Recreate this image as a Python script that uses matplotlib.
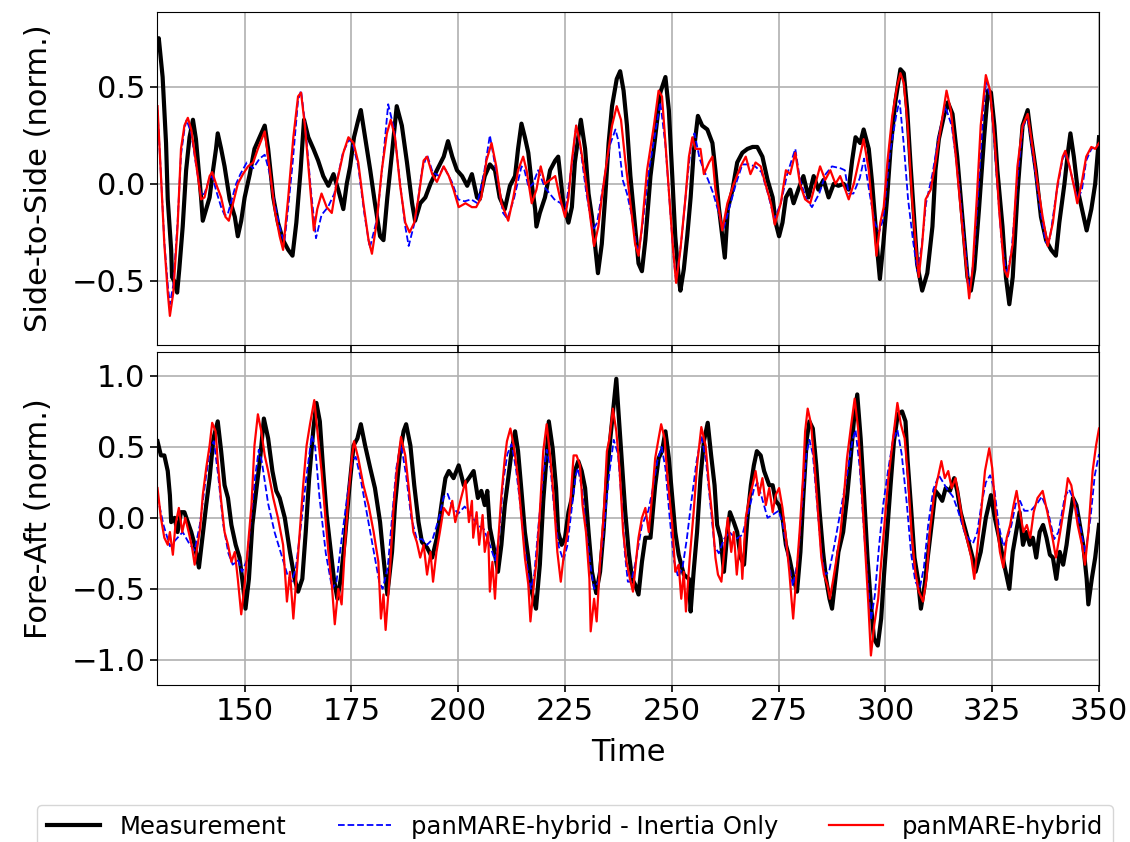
import matplotlib
matplotlib.use("Agg")
import matplotlib.pyplot as plt
import numpy as np

# (time, value) pairs
ss_meas = [(129.5, 0.70), (129.9, 0.75), (130.8, 0.55), (131.6, 0.21), (132.0, -0.08), (132.8, -0.34), (133.0, -0.48),
           (133.5, -0.50), (134.2, -0.56), (134.7, -0.44), (135.5, -0.22), (136.3, 0.07), (137.1, 0.24), (137.9, 0.33),
           (138.6, 0.23), (139.8, -0.07), (140.2, -0.19), (141.0, -0.13), (141.8, -0.07), (142.6, 0.07), (143.3, 0.18),
           (143.7, 0.26), (144.5, 0.18), (145.3, 0.09), (146.5, -0.08), (147.7, -0.17), (148.4, -0.27), (149.2, -0.19),
           (150.0, -0.07), (151.2, 0.05), (152.3, 0.18), (153.5, 0.24), (154.7, 0.30), (155.5, 0.18), (156.7, -0.07),
           (157.8, -0.20), (159.0, -0.29), (160.2, -0.34), (161.2, -0.37), (162.1, -0.20), (163.1, 0.07), (163.9, 0.33),
           (164.9, 0.24), (166.1, 0.18), (167.2, 0.12), (168.4, 0.04), (169.6, -0.01), (170.8, 0.05), (171.9, -0.03),
           (173.1, -0.13), (173.9, 0.00), (174.7, 0.09), (175.6, 0.24), (176.6, 0.33), (177.2, 0.38), (178.2, 0.24),
           (179.4, 0.07), (180.5, -0.10), (181.7, -0.27), (182.5, -0.29), (183.4, -0.07), (184.5, 0.16), (185.6, 0.40),
           (186.8, 0.30), (188.0, 0.11), (189.2, -0.10), (189.9, -0.19), (191.1, -0.10), (192.3, -0.07), (193.5, 0.00),
           (195.0, 0.07), (196.6, 0.14), (197.6, 0.22), (198.6, 0.14), (199.7, 0.07), (200.9, 0.04), (202.1, -0.01),
           (203.2, 0.05), (204.4, -0.07), (205.0, -0.08), (206.2, 0.04), (207.4, 0.10), (208.6, 0.07), (209.7, -0.07),
           (210.9, -0.13), (212.1, -0.01), (213.3, 0.04), (214.0, 0.18), (214.8, 0.31), (215.6, 0.24), (216.4, 0.16),
           (217.2, 0.00), (218.0, -0.13), (218.3, -0.22), (219.1, -0.15), (220.3, -0.07), (221.5, 0.07), (222.7, 0.12),
           (223.4, 0.14), (224.6, -0.10), (225.8, -0.20), (226.6, -0.12), (227.3, 0.11), (228.1, 0.24), (228.7, 0.33),
           (229.7, 0.18), (230.5, -0.05), (231.3, -0.17), (232.0, -0.31), (232.7, -0.46), (233.6, -0.31), (234.4, -0.07),
           (235.2, 0.21), (236.0, 0.40), (237.1, 0.54), (237.9, 0.58), (238.7, 0.48), (239.5, 0.30), (240.3, 0.04),
           (241.4, -0.22), (242.2, -0.41), (243.0, -0.45), (243.8, -0.29), (245.0, 0.04), (246.1, 0.24), (247.3, 0.47),
           (248.5, 0.55), (249.3, 0.38), (250.1, 0.04), (250.8, -0.27), (251.6, -0.48), (252.0, -0.55), (252.8, -0.44),
           (253.6, -0.27), (254.4, -0.07), (255.1, 0.16), (256.1, 0.35), (257.1, 0.30), (258.3, 0.28), (259.5, 0.21),
           (260.2, 0.07), (261.0, -0.12), (261.8, -0.27), (262.4, -0.38), (263.1, -0.13), (264.2, -0.03), (265.3, 0.11),
           (266.5, 0.16), (267.7, 0.18), (268.9, 0.19), (270.0, 0.19), (271.2, 0.14), (272.4, 0.02), (273.6, -0.07),
           (274.3, -0.20), (275.1, -0.27), (275.9, -0.20), (276.7, -0.07), (277.7, -0.03), (278.5, -0.10), (279.6, -0.03),
           (280.8, 0.04), (282.0, -0.07), (283.2, 0.04), (284.3, -0.03), (285.5, 0.02), (286.7, -0.07), (287.9, 0.00),
           (289.0, -0.01), (290.2, 0.00), (291.4, -0.03), (292.2, 0.12), (293.0, 0.24), (294.1, 0.21), (294.9, 0.28),
           (296.1, 0.18), (296.9, 0.00), (297.7, -0.22), (298.2, -0.37), (298.7, -0.49), (299.5, -0.31), (300.4, -0.07),
           (301.2, 0.18), (302.3, 0.42), (303.5, 0.59), (304.3, 0.57), (305.1, 0.38), (305.9, 0.09), (306.7, -0.17),
           (307.4, -0.41), (308.6, -0.55), (309.8, -0.46), (311.0, -0.22), (311.7, 0.07), (312.5, 0.23), (313.7, 0.35),
           (314.6, 0.42), (315.7, 0.36), (316.8, 0.14), (318.0, -0.17), (319.2, -0.48), (320.0, -0.55), (320.8, -0.44),
           (321.9, -0.13), (323.1, 0.24), (324.0, 0.48), (324.7, 0.47), (325.5, 0.30), (326.2, 0.07), (327.4, -0.22),
           (328.2, -0.48), (329.0, -0.62), (329.8, -0.48), (330.9, -0.05), (332.1, 0.30), (333.3, 0.38), (334.1, 0.24),
           (335.2, 0.07), (336.4, -0.17), (337.6, -0.29), (338.8, -0.34), (339.9, -0.37), (340.7, -0.20), (341.9, 0.00),
           (342.7, 0.16), (343.3, 0.26), (344.1, 0.14), (345.0, -0.03), (346.0, -0.13), (347.1, -0.24), (348.2, -0.13),
           (349.1, 0.00), (350.0, 0.24)]

ss_inertia = [(129.6, 0.38), (130.4, 0.05), (131.2, -0.30), (132.0, -0.52), (132.5, -0.62), (133.3, -0.52), (134.3, -0.20),
              (135.1, 0.15), (135.9, 0.28), (136.4, 0.33), (137.5, 0.26), (138.6, 0.10), (139.8, -0.06), (140.6, -0.05),
              (141.8, 0.03), (142.4, 0.04), (143.4, -0.04), (144.5, -0.12), (145.3, -0.16), (146.0, -0.16), (147.0, -0.08),
              (148.0, 0.00), (149.0, 0.05), (150.5, 0.11), (152.0, 0.08), (153.5, 0.13), (154.7, 0.15), (155.8, 0.06),
              (157.0, -0.10), (158.5, -0.25), (159.3, -0.30), (160.2, -0.12), (161.2, 0.10), (162.5, 0.43), (163.2, 0.48),
              (164.1, 0.32), (165.5, -0.03), (166.7, -0.28), (168.0, -0.16), (169.5, -0.12), (171.0, -0.05), (173.0, 0.16),
              (174.5, 0.23), (175.5, 0.19), (176.6, 0.09), (178.0, -0.15), (179.3, -0.33), (181.0, -0.18), (182.5, 0.15),
              (183.6, 0.41), (185.0, 0.28), (186.4, 0.00), (187.6, -0.22), (188.4, -0.32), (190.0, -0.18), (191.5, 0.07),
              (192.7, 0.15), (194.0, 0.06), (195.5, 0.04), (196.6, 0.09), (198.5, 0.01), (200.0, -0.08), (201.5, -0.09),
              (203.0, -0.08), (204.5, -0.10), (206.0, 0.05), (207.4, 0.25), (209.0, 0.05), (210.5, -0.15), (211.5, -0.18),
              (213.0, -0.08), (214.8, 0.09), (215.5, 0.07), (216.5, -0.02), (217.5, 0.00), (218.7, 0.07), (220.3, -0.02),
              (222.5, -0.08), (224.0, -0.10), (225.0, -0.15), (226.6, 0.10), (227.6, 0.30), (228.5, 0.20), (230.0, -0.05),
              (231.5, -0.24), (232.5, -0.20), (234.0, 0.00), (235.5, 0.20), (236.8, 0.28), (237.5, 0.22), (238.5, 0.02),
              (239.5, -0.05), (240.5, -0.15), (241.6, -0.30), (242.2, -0.36), (243.2, -0.20), (244.5, 0.05), (246.0, 0.25),
              (247.3, 0.42), (248.5, 0.20), (249.5, -0.10), (250.5, -0.40), (251.0, -0.50), (252.2, -0.30), (253.5, 0.00),
              (254.5, 0.20), (255.3, 0.26), (256.5, 0.13), (257.5, 0.07), (258.5, 0.02), (259.7, -0.05), (261.0, -0.15),
              (262.0, -0.24), (263.5, -0.12), (265.0, 0.00), (266.5, 0.10), (268.0, 0.10), (269.5, 0.09), (271.0, 0.06),
              (272.5, -0.05), (274.0, -0.18), (275.5, -0.10), (277.0, 0.05), (278.9, 0.18), (280.0, 0.02), (281.5, -0.08),
              (282.8, -0.12), (284.5, -0.05), (286.0, 0.05), (287.5, 0.09), (289.5, 0.08), (290.5, 0.07), (291.4, -0.05),
              (292.5, -0.05), (294.0, 0.03), (295.0, 0.13), (296.3, -0.05), (297.5, -0.20), (298.5, -0.25), (299.5, -0.18),
              (301.0, 0.15), (302.5, 0.35), (303.3, 0.43), (304.3, 0.20), (305.3, -0.08), (306.5, -0.30), (307.5, -0.45),
              (308.5, -0.32), (309.5, -0.10), (311.0, 0.05), (312.5, 0.25), (314.0, 0.40), (315.5, 0.30), (317.0, 0.05),
              (318.5, -0.30), (319.7, -0.55), (320.6, -0.40), (321.7, -0.05), (323.0, 0.40), (323.6, 0.53), (324.8, 0.42),
              (326.0, 0.05), (327.2, -0.30), (328.4, -0.47), (329.5, -0.35), (331.0, 0.05), (332.2, 0.30), (333.4, 0.33),
              (334.5, 0.15), (336.0, -0.10), (337.5, -0.30), (338.5, -0.28), (340.0, -0.05), (341.5, 0.13), (342.3, 0.16),
              (343.5, 0.05), (345.0, -0.08), (346.0, -0.03), (347.0, 0.12), (348.2, 0.18), (350.0, 0.20)]

ss_hybrid = [(129.6, 0.40), (130.4, 0.04), (131.2, -0.31), (132.0, -0.56), (132.5, -0.68), (133.3, -0.56), (134.3, -0.22),
             (135.1, 0.18), (135.9, 0.30), (136.7, 0.34), (137.5, 0.28), (138.6, 0.11), (139.8, -0.08), (140.6, -0.07),
             (141.8, 0.04), (142.4, 0.06), (143.3, 0.00), (144.5, -0.07), (145.5, -0.17), (146.3, -0.19), (147.3, -0.10),
             (148.4, 0.00), (149.6, 0.05), (150.8, 0.09), (152.0, 0.11), (153.1, 0.18), (154.7, 0.27), (155.9, 0.07),
             (157.0, -0.13), (158.2, -0.27), (159.0, -0.34), (160.2, -0.07), (161.4, 0.24), (162.5, 0.45), (163.2, 0.47),
             (164.1, 0.30), (165.3, -0.01), (166.2, -0.24), (167.0, -0.13), (168.0, -0.05), (169.2, -0.12), (170.4, -0.15),
             (171.5, 0.00), (173.1, 0.16), (174.3, 0.24), (175.5, 0.21), (176.6, 0.11), (177.8, -0.10), (179.0, -0.29),
             (179.8, -0.36), (180.9, -0.20), (182.1, 0.07), (183.3, 0.26), (184.2, 0.33), (185.2, 0.24), (186.4, -0.01),
             (187.6, -0.20), (188.6, -0.25), (189.7, -0.20), (190.7, -0.07), (191.9, 0.12), (192.7, 0.14), (193.9, 0.05),
             (195.0, 0.01), (196.6, 0.09), (197.8, 0.04), (198.9, -0.03), (200.1, -0.12), (201.7, -0.10), (203.2, -0.12),
             (204.2, -0.12), (205.4, -0.07), (206.6, 0.12), (207.8, 0.21), (208.9, 0.09), (210.1, -0.10), (211.7, -0.19),
             (212.9, -0.07), (214.0, 0.07), (215.2, 0.14), (216.0, 0.07), (217.2, -0.10), (218.3, -0.03), (219.3, 0.09),
             (220.3, 0.00), (221.5, 0.02), (222.7, 0.04), (223.8, -0.07), (225.0, -0.17), (225.8, -0.07), (226.6, 0.12),
             (227.6, 0.30), (228.5, 0.21), (229.7, 0.04), (230.9, -0.17), (231.8, -0.32), (232.8, -0.22), (233.6, -0.07),
             (234.8, 0.12), (236.0, 0.30), (237.1, 0.40), (238.1, 0.33), (239.1, 0.12), (240.3, -0.10), (241.4, -0.31),
             (242.2, -0.37), (243.0, -0.22), (244.2, 0.07), (245.8, 0.30), (246.9, 0.48), (247.7, 0.45), (248.5, 0.21),
             (249.5, -0.10), (250.3, -0.34), (251.0, -0.51), (252.0, -0.34), (253.2, -0.07), (254.0, 0.14), (254.8, 0.24),
             (255.5, 0.18), (256.7, 0.18), (257.5, 0.05), (258.7, 0.11), (259.5, 0.14), (260.2, -0.03), (261.0, -0.13),
             (261.8, -0.24), (263.0, -0.10), (264.5, 0.00), (266.1, 0.09), (267.3, 0.14), (268.4, 0.05), (269.6, 0.11),
             (270.8, 0.09), (271.9, 0.00), (273.2, -0.10), (274.1, -0.21), (275.5, -0.10), (276.7, 0.07), (277.7, 0.05),
             (278.9, 0.16), (280.0, 0.00), (281.2, -0.08), (282.4, -0.10), (283.6, 0.00), (284.7, 0.09), (285.9, 0.02),
             (287.1, 0.07), (288.3, 0.00), (289.4, 0.04), (290.6, -0.03), (291.4, -0.08), (292.6, 0.00), (293.7, 0.11),
             (294.9, 0.23), (296.1, 0.07), (297.1, -0.17), (297.9, -0.37), (298.8, -0.20), (299.6, -0.12), (300.5, 0.12),
             (301.6, 0.35), (302.7, 0.50), (303.5, 0.57), (304.3, 0.52), (305.2, 0.30), (306.3, -0.10), (307.1, -0.31),
             (307.8, -0.48), (308.6, -0.31), (309.4, -0.08), (310.6, -0.03), (311.7, 0.11), (312.9, 0.28), (314.3, 0.48),
             (315.3, 0.38), (316.4, 0.16), (317.6, -0.13), (318.8, -0.41), (319.6, -0.59), (320.4, -0.44), (321.4, -0.07),
             (322.3, 0.30), (323.5, 0.56), (324.5, 0.48), (325.6, 0.21), (326.6, -0.13), (327.8, -0.44), (328.6, -0.48),
             (329.8, -0.31), (330.9, 0.09), (332.1, 0.30), (333.3, 0.36), (334.5, 0.18), (335.6, 0.00), (336.8, -0.17),
             (338.0, -0.32), (339.2, -0.20), (340.3, 0.00), (341.5, 0.14), (342.1, 0.17), (343.1, 0.09), (344.3, -0.03),
             (344.9, -0.10), (345.9, 0.00), (347.0, 0.14), (348.2, 0.19), (349.1, 0.18), (350.0, 0.21)]

fa_meas = [(129.6, 0.54), (130.4, 0.44), (131.2, 0.44), (132.0, 0.33), (132.5, 0.16), (132.8, -0.03), (133.6, 0.00),
           (134.3, -0.10), (135.1, 0.04), (135.9, 0.04), (136.7, -0.03), (137.5, -0.10), (138.3, -0.19), (139.3, -0.35),
           (140.1, -0.14), (141.0, 0.09), (141.8, 0.28), (142.7, 0.56), (143.7, 0.68), (144.5, 0.47), (145.3, 0.23),
           (146.1, 0.14), (146.9, -0.05), (147.9, -0.19), (148.8, -0.28), (149.6, -0.47), (150.2, -0.64), (151.0, -0.43),
           (151.8, -0.05), (152.7, 0.19), (153.7, 0.44), (154.5, 0.70), (155.5, 0.56), (156.5, 0.33), (157.4, 0.19),
           (158.2, 0.14), (159.4, 0.00), (160.6, -0.24), (161.7, -0.43), (162.5, -0.52), (163.5, -0.43), (164.3, -0.10),
           (165.1, 0.28), (166.1, 0.63), (166.8, 0.81), (167.6, 0.68), (168.4, 0.33), (169.2, 0.02), (170.0, -0.19),
           (170.9, -0.43), (171.7, -0.57), (172.5, -0.43), (173.5, -0.14), (174.5, 0.21), (175.5, 0.51), (176.4, 0.56),
           (177.2, 0.66), (178.2, 0.51), (179.4, 0.35), (180.5, 0.21), (181.7, -0.03), (182.5, -0.28), (183.4, -0.54),
           (184.5, -0.24), (185.2, 0.09), (186.3, 0.44), (187.2, 0.61), (187.8, 0.66), (188.8, 0.51), (189.7, 0.23),
           (190.7, -0.03), (191.5, -0.17), (192.7, -0.21), (193.9, -0.28), (195.0, -0.14), (196.2, 0.12), (197.0, 0.28),
           (197.8, 0.33), (198.9, 0.28), (200.1, 0.37), (201.3, 0.23), (202.5, 0.28), (203.6, 0.33), (204.6, 0.14),
           (205.4, 0.19), (206.2, 0.09), (206.8, 0.19), (207.4, -0.07), (208.2, -0.19), (209.3, -0.38), (210.1, -0.19),
           (210.9, 0.09), (211.7, 0.28), (212.5, 0.47), (213.3, 0.61), (214.0, 0.47), (214.8, 0.19), (215.6, -0.10),
           (216.4, -0.28), (217.2, -0.52), (218.2, -0.64), (219.1, -0.33), (219.9, 0.12), (220.7, 0.44), (221.2, 0.68),
           (222.1, 0.49), (222.9, 0.21), (223.4, -0.10), (224.2, -0.19), (225.0, -0.14), (225.8, 0.04), (226.6, 0.14),
           (227.3, 0.33), (228.1, 0.40), (228.9, 0.33), (229.7, 0.21), (230.5, -0.10), (231.3, -0.38), (232.3, -0.53),
           (233.2, -0.38), (234.0, -0.10), (234.8, 0.28), (235.6, 0.56), (236.4, 0.80), (237.0, 0.98), (237.5, 0.75),
           (238.3, 0.40), (239.1, 0.04), (239.9, -0.24), (240.7, -0.43), (241.4, -0.47), (242.2, -0.54), (243.0, -0.31),
           (243.8, -0.14), (245.0, -0.14), (246.1, 0.23), (246.9, 0.42), (247.7, 0.47), (248.5, 0.61), (249.3, 0.42),
           (250.1, 0.14), (250.8, -0.10), (251.6, -0.26), (252.8, -0.40), (254.0, -0.43), (254.4, -0.66), (255.1, -0.38),
           (255.9, -0.10), (256.7, 0.28), (257.5, 0.54), (258.4, 0.67), (259.2, 0.44), (260.0, 0.23), (260.6, -0.05),
           (261.4, -0.14), (262.2, -0.38), (263.0, -0.10), (263.6, 0.04), (264.5, -0.03), (265.3, -0.10), (266.1, -0.28),
           (266.9, -0.33), (267.7, 0.00), (268.5, 0.23), (269.2, 0.37), (269.9, 0.47), (270.8, 0.44), (271.6, 0.33),
           (272.8, 0.23), (273.6, 0.23), (274.3, 0.12), (275.1, 0.09), (275.9, 0.00), (276.7, -0.19), (277.5, -0.28),
           (278.5, -0.43), (279.3, -0.52), (280.1, -0.24), (280.8, 0.16), (281.6, 0.56), (282.2, 0.68), (283.0, 0.63),
           (283.8, 0.37), (284.6, 0.04), (285.4, -0.24), (286.1, -0.43), (286.9, -0.57), (287.5, -0.64), (288.3, -0.43),
           (289.0, -0.24), (290.1, -0.10), (291.0, 0.14), (291.8, 0.40), (292.6, 0.68), (293.4, 0.87), (294.2, 0.56),
           (295.0, 0.16), (295.8, -0.28), (296.5, -0.57), (297.3, -0.85), (298.2, -0.90), (299.0, -0.71), (299.6, -0.43),
           (300.4, -0.10), (301.2, 0.23), (302.0, 0.54), (302.9, 0.73), (303.9, 0.75), (304.7, 0.68), (305.2, 0.40),
           (306.0, 0.07), (306.8, -0.28), (307.6, -0.43), (308.3, -0.64), (309.2, -0.47), (309.9, -0.28), (311.0, 0.00),
           (311.7, 0.19), (312.5, 0.16), (313.3, 0.12), (314.1, 0.21), (315.1, 0.19), (316.1, 0.28), (316.8, 0.19),
           (317.6, 0.04), (318.4, -0.05), (319.2, -0.14), (320.4, -0.28), (321.1, -0.38), (322.3, -0.24), (323.5, 0.00),
           (324.7, 0.16), (325.6, 0.00), (326.6, -0.14), (327.8, -0.33), (329.0, -0.50), (329.8, -0.24), (330.6, -0.10),
           (331.4, 0.04), (332.2, -0.19), (333.0, -0.10), (333.8, -0.19), (334.5, -0.14), (335.3, -0.28), (336.1, -0.10),
           (336.9, -0.05), (337.7, -0.14), (338.5, -0.26), (339.2, -0.28), (340.0, -0.43), (340.8, -0.24), (341.6, -0.33),
           (342.4, -0.19), (343.2, 0.00), (343.9, 0.14), (344.7, 0.09), (345.5, -0.05), (346.3, -0.19), (347.1, -0.43),
           (347.5, -0.61), (348.3, -0.43), (349.1, -0.28), (350.0, -0.05)]

fa_inertia = [(129.6, 0.15), (131.0, -0.05), (132.5, -0.20), (134.0, -0.15), (135.5, -0.10), (137.0, -0.18), (138.3, -0.23),
              (139.5, -0.05), (141.0, 0.30), (142.0, 0.50), (142.8, 0.54), (143.8, 0.30), (145.0, -0.05), (146.2, -0.25),
              (147.2, -0.33), (148.5, -0.30), (149.4, -0.38), (150.5, -0.30), (151.5, 0.00), (152.5, 0.30), (153.3, 0.48),
              (154.0, 0.40), (155.5, 0.10), (157.0, -0.10), (158.5, -0.25), (160.0, -0.40), (161.0, -0.45), (162.0, -0.35),
              (163.0, -0.10), (164.5, 0.30), (165.7, 0.58), (166.5, 0.50), (167.5, 0.15), (169.0, -0.25), (170.5, -0.50),
              (171.5, -0.45), (172.5, -0.20), (174.0, 0.15), (175.2, 0.40), (176.0, 0.43), (177.0, 0.30), (178.5, 0.05),
              (180.0, -0.20), (181.5, -0.45), (182.3, -0.50), (183.5, -0.35), (184.5, 0.00), (185.5, 0.35), (186.6, 0.52),
              (187.8, 0.30), (189.0, 0.00), (190.3, -0.15), (191.5, -0.15), (192.7, -0.19), (194.0, -0.15), (195.5, 0.00),
              (196.6, 0.15), (197.5, 0.17), (198.6, 0.08), (200.0, 0.03), (201.5, 0.08), (203.0, 0.02), (204.5, -0.05),
              (206.0, -0.08), (207.5, -0.20), (208.6, -0.30), (209.5, -0.15), (210.5, 0.25), (211.5, 0.45), (212.5, 0.52),
              (213.5, 0.35), (214.5, 0.10), (215.5, -0.20), (216.4, -0.40), (217.0, -0.50), (217.8, -0.40), (218.8, -0.05),
              (219.9, 0.30), (220.7, 0.48), (221.6, 0.35), (222.5, 0.05), (223.5, -0.20), (224.6, -0.30), (225.5, -0.20),
              (226.5, 0.05), (227.5, 0.30), (228.0, 0.35), (229.0, 0.20), (230.0, -0.10), (231.0, -0.35), (231.8, -0.50),
              (232.8, -0.45), (234.0, -0.10), (235.3, 0.30), (236.4, 0.55), (237.4, 0.45), (238.3, 0.10), (239.0, -0.25),
              (239.7, -0.45), (240.5, -0.45), (241.6, -0.30), (243.0, -0.05), (244.5, 0.05), (245.5, 0.20), (246.6, 0.40),
              (247.6, 0.50), (248.5, 0.35), (249.5, 0.00), (250.5, -0.30), (251.5, -0.42), (252.5, -0.35), (253.5, -0.15),
              (254.5, 0.10), (255.8, 0.40), (256.9, 0.58), (258.0, 0.40), (259.0, 0.10), (260.0, -0.20), (261.0, -0.25),
              (262.2, -0.15), (263.5, -0.10), (265.0, -0.15), (266.5, -0.12), (268.0, 0.05), (269.2, 0.20), (270.0, 0.25),
              (271.0, 0.15), (272.4, 0.00), (273.5, 0.02), (275.0, 0.05), (276.0, -0.05), (277.3, -0.30), (278.3, -0.48),
              (279.5, -0.30), (280.5, 0.10), (281.5, 0.45), (282.2, 0.55), (283.0, 0.45), (284.0, 0.10), (285.0, -0.25),
              (285.8, -0.40), (286.8, -0.38), (288.0, -0.20), (289.5, 0.05), (291.0, 0.30), (292.3, 0.55), (293.0, 0.62),
              (294.0, 0.35), (295.0, -0.10), (296.0, -0.50), (296.6, -0.72), (297.5, -0.55), (298.5, -0.20), (299.5, 0.10),
              (300.7, 0.35), (301.8, 0.55), (302.8, 0.62), (303.8, 0.45), (305.0, 0.10), (306.0, -0.25), (307.0, -0.45),
              (308.0, -0.50), (309.0, -0.35), (310.0, -0.05), (311.2, 0.20), (312.5, 0.30), (313.5, 0.25), (314.5, 0.20),
              (315.8, 0.15), (317.0, 0.05), (318.5, -0.10), (319.5, -0.15), (320.5, -0.18), (321.5, -0.10), (322.5, 0.10),
              (323.5, 0.25), (324.5, 0.30), (325.5, 0.20), (326.5, -0.05), (327.6, -0.20), (328.5, -0.15), (329.5, -0.05),
              (330.5, 0.10), (331.5, 0.12), (332.5, 0.05), (334.0, 0.05), (335.5, 0.10), (336.6, 0.15), (338.0, 0.05),
              (339.5, -0.15), (340.5, -0.10), (342.0, 0.15), (343.0, 0.20), (344.5, 0.10), (345.5, -0.05), (346.8, -0.25),
              (348.0, 0.00), (349.0, 0.30), (350.0, 0.45)]

fa_hybrid = [(129.6, 0.21), (130.4, 0.00), (131.2, -0.14), (132.0, -0.19), (132.5, -0.10), (133.2, -0.26), (133.8, -0.05),
             (134.6, 0.07), (135.4, -0.10), (136.1, 0.00), (136.9, -0.10), (137.7, -0.21), (138.3, -0.33), (139.0, -0.19),
             (139.6, -0.07), (140.2, 0.16), (141.0, 0.35), (141.8, 0.51), (142.4, 0.67), (143.2, 0.61), (143.7, 0.40),
             (144.5, 0.12), (145.3, -0.10), (146.1, -0.19), (146.9, -0.31), (147.7, -0.24), (148.4, -0.43), (149.2, -0.68),
             (150.0, -0.47), (150.8, -0.19), (151.6, 0.09), (152.3, 0.51), (153.1, 0.73), (153.9, 0.61), (154.7, 0.44),
             (155.5, 0.33), (156.7, 0.14), (157.8, 0.00), (159.0, -0.19), (159.9, -0.59), (160.6, -0.38), (161.4, -0.71),
             (162.1, -0.43), (162.9, -0.10), (163.7, 0.23), (164.5, 0.51), (165.3, 0.66), (166.3, 0.83), (167.2, 0.56),
             (168.0, 0.33), (168.8, 0.04), (169.6, -0.24), (170.4, -0.47), (171.1, -0.75), (171.9, -0.50), (172.7, -0.61),
             (173.5, -0.19), (174.3, 0.16), (175.1, 0.42), (175.6, 0.54), (176.6, 0.42), (177.8, 0.23), (179.0, 0.09),
             (180.2, -0.10), (181.3, -0.31), (181.9, -0.71), (182.5, -0.54), (183.0, -0.79), (183.9, -0.43), (184.8, 0.04),
             (185.6, 0.33), (186.6, 0.57), (187.6, 0.44), (188.6, 0.16), (189.5, -0.10), (190.3, -0.17), (191.1, -0.28),
             (191.9, -0.19), (192.7, -0.40), (193.5, -0.24), (194.1, -0.45), (194.9, -0.24), (195.7, -0.10), (196.6, 0.07),
             (197.8, 0.02), (198.6, 0.12), (199.3, -0.03), (200.5, 0.12), (201.7, 0.26), (202.5, -0.03), (203.2, 0.12),
             (203.5, -0.14), (204.3, 0.04), (204.9, -0.19), (205.7, 0.02), (206.2, -0.24), (207.0, -0.10), (207.4, -0.52),
             (208.0, -0.31), (208.6, -0.57), (209.3, -0.19), (210.1, 0.16), (210.9, 0.42), (211.4, 0.54), (212.2, 0.63),
             (213.0, 0.51), (214.0, 0.28), (214.8, 0.00), (215.6, -0.28), (216.4, -0.47), (216.9, -0.73), (217.7, -0.47),
             (218.3, -0.31), (219.1, 0.04), (219.9, 0.47), (220.7, 0.66), (221.5, 0.44), (222.3, 0.16), (223.2, -0.24),
             (224.0, -0.45), (224.8, -0.24), (225.6, -0.10), (226.2, 0.09), (227.0, 0.44), (227.7, 0.44), (228.5, 0.37),
             (229.1, 0.09), (229.9, -0.10), (230.7, -0.43), (231.0, -0.80), (231.8, -0.57), (232.4, -0.73), (233.2, -0.31),
             (234.0, 0.00), (234.8, 0.47), (235.4, 0.56), (236.2, 0.77), (237.0, 0.61), (237.8, 0.33), (238.6, -0.10),
             (239.4, -0.31), (240.2, -0.43), (240.9, -0.52), (241.7, -0.28), (242.2, -0.14), (243.0, 0.00), (243.8, 0.07),
             (244.6, -0.10), (245.4, 0.16), (246.1, 0.42), (246.9, 0.56), (247.5, 0.66), (248.3, 0.56), (249.0, 0.28),
             (250.1, -0.05), (250.8, -0.38), (251.6, -0.33), (252.2, -0.57), (252.8, -0.38), (253.3, -0.66), (254.2, -0.28),
             (255.1, 0.04), (255.9, 0.37), (256.9, 0.64), (257.9, 0.51), (258.7, 0.23), (259.5, 0.00), (260.2, -0.28),
             (260.8, -0.40), (261.6, -0.45), (262.4, -0.19), (263.1, 0.00), (263.9, -0.24), (264.5, -0.10), (265.2, -0.40),
             (266.0, -0.14), (266.5, -0.43), (267.3, 0.00), (268.1, 0.14), (268.9, 0.23), (269.6, 0.33), (270.4, 0.16),
             (271.2, 0.28), (272.0, 0.09), (272.8, 0.21), (273.6, 0.04), (274.3, 0.16), (275.1, 0.21), (275.9, 0.07),
             (276.7, -0.14), (277.5, -0.38), (278.0, -0.57), (278.4, -0.71), (279.1, -0.43), (279.9, -0.10), (280.7, 0.28),
             (281.2, 0.61), (281.8, 0.77), (282.6, 0.66), (283.4, 0.37), (284.2, 0.04), (285.0, -0.28), (285.6, -0.40),
             (286.4, -0.47), (287.0, -0.57), (287.8, -0.43), (288.6, -0.28), (289.5, -0.10), (290.3, 0.16), (291.0, 0.42),
             (292.0, 0.66), (292.8, 0.84), (293.6, 0.63), (294.4, 0.23), (295.2, -0.19), (296.0, -0.61), (296.6, -0.97),
             (297.4, -0.75), (298.3, -0.57), (299.1, -0.28), (299.9, 0.00), (300.7, 0.28), (301.7, 0.54), (302.8, 0.81),
             (303.6, 0.66), (304.5, 0.56), (305.3, 0.28), (306.1, -0.10), (307.0, -0.38), (307.8, -0.52), (308.8, -0.59),
             (309.6, -0.43), (310.4, -0.10), (311.4, 0.16), (312.4, 0.30), (313.1, 0.40), (313.9, 0.28), (314.7, 0.33),
             (315.5, 0.21), (316.4, 0.28), (317.2, 0.14), (318.2, -0.05), (319.4, -0.19), (320.1, -0.28), (320.8, -0.43),
             (321.6, -0.19), (322.4, 0.04), (323.3, 0.33), (324.3, 0.49), (325.0, 0.35), (325.8, 0.04), (326.8, -0.24),
             (327.6, -0.35), (328.4, -0.14), (329.2, -0.05), (330.0, 0.09), (330.7, 0.19), (331.5, 0.04), (332.3, -0.10),
             (333.1, -0.05), (333.9, -0.14), (334.7, 0.04), (335.6, 0.14), (336.8, 0.19), (337.9, 0.04), (339.1, -0.14),
             (339.9, -0.28), (340.9, -0.10), (341.9, 0.09), (342.7, 0.28), (343.5, 0.23), (344.3, 0.09), (345.0, -0.05),
             (346.0, -0.19), (346.7, -0.33), (347.5, -0.10), (348.5, 0.33), (349.3, 0.51), (350.0, 0.63)]

fig = plt.figure(figsize=(11.3, 8.42), dpi=100)
ax1 = fig.add_axes([0.139, 1 - 345 / 842, 0.8336, 333 / 842])
ax2 = fig.add_axes([0.139, 1 - 685 / 842, 0.8336, 333 / 842], sharex=ax1)

def draw(ax, meas, inertia, hybrid):
    t, v = np.array(meas).T
    ax.plot(t, v, color='k', lw=3, label='Measurement')
    t, v = np.array(inertia).T
    ax.plot(t, v, color='b', ls='--', lw=1.3, label='panMARE-hybrid - Inertia Only')
    t, v = np.array(hybrid).T
    ax.plot(t, v, color='r', lw=1.6, label='panMARE-hybrid')
    ax.grid(True, color='#b0b0b0', lw=1.2)
    ax.tick_params(labelsize=22, width=1.2, length=5)

draw(ax1, ss_meas, ss_inertia, ss_hybrid)
draw(ax2, fa_meas, fa_inertia, fa_hybrid)

ax1.set_xlim(129.5, 350)
ax1.set_ylim(-0.83, 0.885)
ax2.set_ylim(-1.178, 1.169)
ax1.set_yticks([-0.5, 0.0, 0.5])
ax2.set_yticks([-1.0, -0.5, 0.0, 0.5, 1.0])
ax2.set_xticks([150, 175, 200, 225, 250, 275, 300, 325, 350])
plt.setp(ax1.get_xticklabels(), visible=False)

ax1.set_ylabel('Side-to-Side (norm.)', fontsize=22)
ax2.set_ylabel('Fore-Aft (norm.)', fontsize=22)
ax2.set_xlabel('Time', fontsize=22, labelpad=9)
ax1.yaxis.set_label_coords(-0.111, 0.5)
ax2.yaxis.set_label_coords(-0.111, 0.5)

handles, labels = ax1.get_legend_handles_labels()
fig.legend(handles, labels, loc='upper center', bbox_to_anchor=(0.509, 1 - 805 / 842),
           borderaxespad=0, ncol=3, fontsize=17.5, handlelength=2.2, columnspacing=2.1)

fig.savefig('out.png', dpi=100)
